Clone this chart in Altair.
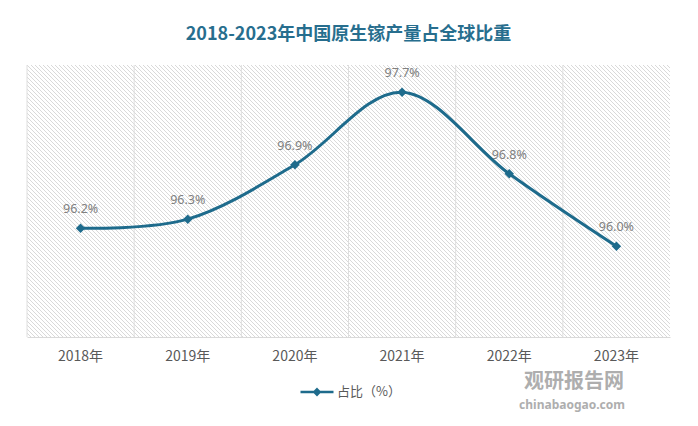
import altair as alt
import pandas as pd

years = ["2018年", "2019年", "2020年", "2021年", "2022年", "2023年"]
share = [96.2, 96.3, 96.9, 97.7, 96.8, 96.0]
series_name = "占比（%）"
title_text = "2018-2023年中国原生镓产量占全球比重"
wm_cn = "观研报告网"
wm_en = "chinabaogao.com"

W, H = 643, 272
BLUE = "#1e6b8c"

df = pd.DataFrame({"year": years, "share": share, "series": [series_name] * len(years)})
df["label"] = [f"{v:.1f}%" for v in share]

# hatched plot background: one symbol whose custom path is a set of 45-degree strokes
# (symbol size 4 -> path units are pixels, centred on the plot centre)
segs = []
step = 4
c = -H
while c < W:
    x0 = max(0, c)
    x1 = min(W, H + c)
    if x1 > x0:
        y0 = x0 - c
        y1 = x1 - c
        segs.append(f"M{x0 - W / 2:.1f},{y0 - H / 2:.1f}L{x1 - W / 2:.1f},{y1 - H / 2:.1f}")
    c += step
hatch_path = "".join(segs)

xscale = alt.Scale(domain=years, paddingInner=0, paddingOuter=0)
xaxis = alt.Axis(
    title=None, labels=True, labelFont="Noto Sans CJK SC", labelFontSize=14,
    labelColor="#595959", labelPadding=12, labelAngle=0,
    ticks=False, domain=True, domainColor="#d9d9d9", grid=False)
xenc = alt.X("year:N", sort=years, scale=xscale, axis=xaxis)
yenc = alt.Y("share:Q", scale=alt.Scale(domain=[95, 98]), axis=None)

base = alt.Chart(df)

bg = alt.Chart(pd.DataFrame({"z": [0]})).mark_point(
    shape=hatch_path, size=4, filled=False, stroke="#d9d9d9", strokeWidth=1, opacity=1
).encode(x=alt.value(W / 2), y=alt.value(H / 2))

grid = base.mark_rule(color="#dedede", strokeWidth=1).encode(
    x=alt.X("year:N", sort=years, scale=xscale, bandPosition=0, axis=xaxis),
    y=alt.value(0), y2=alt.value(H))

line = base.mark_line(interpolate="cardinal", strokeWidth=3).encode(
    x=xenc, y=yenc,
    color=alt.Color("series:N", scale=alt.Scale(range=[BLUE]), legend=alt.Legend(
        title=None, orient="none", legendX=272, legendY=309,
        symbolType="M-1,0L1,0M0,-0.16L0.16,0L0,0.16L-0.16,0Z",
        symbolSize=1089, symbolStrokeWidth=2.5,
        symbolStrokeColor=BLUE, symbolFillColor=BLUE,
        labelFont="Noto Sans CJK SC", labelFontSize=13, labelColor="#595959",
        labelOffset=2)),
)
points = base.mark_point(shape="diamond", filled=True, size=90, opacity=1, color=BLUE).encode(
    x=xenc, y=yenc)
labels = base.mark_text(dy=-19, fontSize=12.5, color="#808080", font="Noto Sans").encode(
    x=xenc, y=yenc, text="label:N")

wdf = pd.DataFrame({"a": [wm_cn], "b": [wm_en]})
wm1 = alt.Chart(wdf).mark_text(fontSize=20, fontWeight="bold", color="#8c8c8c", opacity=0.7,
                               font="Noto Sans CJK SC", baseline="middle").encode(
    x=alt.value(547), y=alt.value(H + 45), text="a:N")
wm2 = alt.Chart(wdf).mark_text(fontSize=12, color="#9a9a9a", opacity=0.8,
                               font="Noto Sans", baseline="middle", fontWeight="bold").encode(
    x=alt.value(545), y=alt.value(H + 68), text="b:N")

chart = alt.layer(bg, grid, line, points, labels, wm1, wm2).properties(
    width=W, height=H,
    autosize="none",
    padding={"left": 19, "top": 57, "right": 20, "bottom": 81},
    background="#ffffff",
    title=alt.TitleParams(title_text, font="Noto Sans CJK SC", fontSize=18, fontWeight="bold",
                          color="#276e8e", anchor="middle", baseline="middle", offset=10),
).configure_view(stroke=None)

chart.save("out.html", embed_options={"renderer": "svg", "actions": False})
